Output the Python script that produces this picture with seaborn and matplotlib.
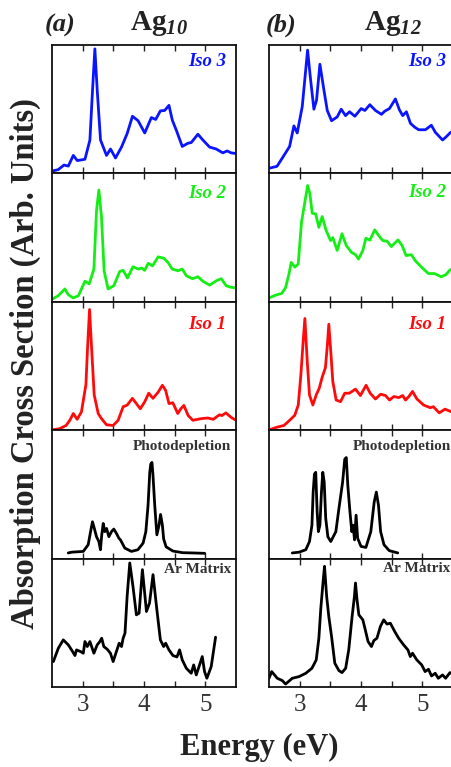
import matplotlib
matplotlib.use("Agg")
import matplotlib.pyplot as plt
import pandas as pd
import seaborn as sns

# ---------------- data (energy in eV, normalised intensity) ----------------
ag10_iso3_e = [2.50, 2.60, 2.695, 2.766, 2.847, 2.912, 3.037, 3.118, 3.161, 3.199, 3.237, 3.291, 3.389, 3.454,
               3.535, 3.633, 3.725, 3.812, 3.904, 4.012, 4.12, 4.19, 4.267, 4.337, 4.407, 4.462, 4.527, 4.624,
               4.716, 4.77, 4.879, 4.96, 5.069, 5.177, 5.285, 5.355, 5.42, 5.50]
ag10_iso3_v = [0.018, 0.029, 0.065, 0.057, 0.14, 0.10, 0.11, 0.26, 0.65, 0.97, 0.65, 0.26, 0.14, 0.19,
               0.12, 0.205, 0.31, 0.445, 0.41, 0.315, 0.435, 0.42, 0.487, 0.49, 0.53, 0.414, 0.336, 0.21,
               0.235, 0.24, 0.305, 0.26, 0.205, 0.19, 0.16, 0.175, 0.16, 0.155]

ag12_iso3_e = [2.50, 2.63, 2.744, 2.836, 2.906, 2.96, 3.042, 3.129, 3.178, 3.232, 3.275, 3.33, 3.395, 3.45,
               3.52, 3.612, 3.677, 3.748, 3.813, 3.90, 4.003, 4.063, 4.144, 4.236, 4.334, 4.388, 4.464, 4.561,
               4.626, 4.68, 4.74, 4.806, 4.876, 4.94, 5.05, 5.147, 5.212, 5.33, 5.40, 5.45, 5.50]
ag12_iso3_v = [0.04, 0.055, 0.14, 0.21, 0.37, 0.315, 0.52, 0.96, 0.73, 0.50, 0.57, 0.85, 0.65, 0.49,
               0.41, 0.44, 0.50, 0.45, 0.48, 0.445, 0.505, 0.49, 0.535, 0.49, 0.46, 0.485, 0.505, 0.58,
               0.495, 0.45, 0.48, 0.39, 0.36, 0.34, 0.34, 0.375, 0.32, 0.26, 0.29, 0.315, 0.33]

ag10_iso2_e = [2.50, 2.60, 2.71, 2.766, 2.847, 2.93, 3.037, 3.107, 3.183, 3.226, 3.264, 3.307, 3.35, 3.415,
               3.508, 3.605, 3.66, 3.73, 3.82, 3.905, 3.96, 4.01, 4.07, 4.14, 4.23, 4.32, 4.39, 4.46, 4.553,
               4.624, 4.69, 4.79, 4.88, 4.96, 5.07, 5.18, 5.26, 5.34, 5.42, 5.50]
ag10_iso2_v = [0.02, 0.047, 0.10, 0.055, 0.03, 0.047, 0.16, 0.14, 0.255, 0.71, 0.87, 0.66, 0.24, 0.10,
               0.125, 0.237, 0.245, 0.185, 0.273, 0.255, 0.263, 0.245, 0.30, 0.28, 0.35, 0.34, 0.307, 0.255,
               0.242, 0.255, 0.203, 0.18, 0.195, 0.16, 0.13, 0.164, 0.18, 0.125, 0.113, 0.108]

ag12_iso2_e = [2.50, 2.608, 2.706, 2.77, 2.825, 2.863, 2.92, 2.977, 3.03, 3.08, 3.13, 3.167, 3.205, 3.26,
               3.313, 3.367, 3.43, 3.503, 3.54, 3.612, 3.69, 3.76, 3.845, 3.91, 3.96, 4.03, 4.08, 4.144,
               4.224, 4.278, 4.354, 4.425, 4.494, 4.604, 4.67, 4.735, 4.82, 4.885, 4.99, 5.10, 5.198, 5.306,
               5.38, 5.45, 5.50]
ag12_iso2_v = [0.03, 0.052, 0.065, 0.11, 0.215, 0.307, 0.27, 0.295, 0.62, 0.763, 0.906, 0.84, 0.69, 0.685,
               0.58, 0.664, 0.558, 0.477, 0.50, 0.40, 0.53, 0.438, 0.385, 0.367, 0.333, 0.40, 0.495, 0.48,
               0.56, 0.523, 0.477, 0.472, 0.43, 0.482, 0.438, 0.36, 0.367, 0.32, 0.268, 0.22, 0.22, 0.195,
               0.21, 0.247, 0.26]

ag10_iso1_e = [2.50, 2.62, 2.73, 2.79, 2.847, 2.91, 2.98, 3.053, 3.08, 3.112, 3.145, 3.188, 3.253, 3.307,
               3.389, 3.497, 3.578, 3.66, 3.725, 3.81, 3.876, 3.94, 4.01, 4.077, 4.147, 4.23, 4.30, 4.353,
               4.407, 4.47, 4.55, 4.60, 4.65, 4.72, 4.797, 4.93, 5.04, 5.13, 5.23, 5.27, 5.335, 5.42, 5.50]
ag10_iso1_v = [0.003, 0.011, 0.037, 0.077, 0.13, 0.085, 0.143, 0.355, 0.645, 0.94, 0.645, 0.275, 0.13, 0.09,
               0.042, 0.037, 0.077, 0.183, 0.195, 0.248, 0.207, 0.167, 0.22, 0.288, 0.248, 0.296, 0.35, 0.31,
               0.207, 0.214, 0.13, 0.167, 0.193, 0.114, 0.077, 0.09, 0.095, 0.085, 0.12, 0.114, 0.135, 0.10, 0.077]

ag12_iso1_e = [2.50, 2.635, 2.744, 2.836, 2.92, 2.977, 3.02, 3.058, 3.085, 3.123, 3.16, 3.215, 3.27, 3.32,
               3.367, 3.42, 3.453, 3.475, 3.502, 3.54, 3.595, 3.666, 3.735, 3.81, 3.91, 3.99, 4.083, 4.15,
               4.236, 4.32, 4.40, 4.464, 4.536, 4.617, 4.68, 4.725, 4.78, 4.84, 4.912, 5.02, 5.13, 5.18,
               5.275, 5.37, 5.45, 5.50]
ag12_iso1_v = [0.003, 0.024, 0.037, 0.077, 0.116, 0.196, 0.434, 0.70, 0.87, 0.54, 0.275, 0.196, 0.275, 0.328,
               0.413, 0.487, 0.672, 0.825, 0.65, 0.38, 0.235, 0.222, 0.288, 0.288, 0.32, 0.27, 0.35, 0.288,
               0.243, 0.28, 0.27, 0.235, 0.262, 0.254, 0.27, 0.235, 0.262, 0.302, 0.243, 0.196, 0.175, 0.183,
               0.135, 0.164, 0.148, 0.14]

ag10_photo_e = [2.765, 2.82, 3.01, 3.09, 3.129, 3.16, 3.19, 3.226, 3.264, 3.29, 3.31, 3.335, 3.36, 3.39,
                3.427, 3.47, 3.508, 3.55, 3.59, 3.616, 3.687, 3.795, 3.90, 3.985, 4.03, 4.066, 4.094, 4.11,
                4.13, 4.147, 4.175, 4.21, 4.245, 4.27, 4.30, 4.32, 4.36, 4.47, 4.63, 4.80, 4.99]
ag10_photo_v = [0.044, 0.05, 0.056, 0.108, 0.21, 0.287, 0.235, 0.17, 0.133, 0.069, 0.18, 0.274, 0.21, 0.235,
                0.17, 0.21, 0.23, 0.197, 0.159, 0.146, 0.082, 0.056, 0.069, 0.12, 0.21, 0.415, 0.672, 0.736,
                0.749, 0.646, 0.415, 0.185, 0.26, 0.344, 0.26, 0.154, 0.092, 0.059, 0.046, 0.044, 0.041]

ag12_photo_e = [2.88, 2.99, 3.10, 3.16, 3.20, 3.22, 3.241, 3.262, 3.285, 3.305, 3.33, 3.355, 3.377, 3.40,
                3.425, 3.46, 3.507, 3.59, 3.64, 3.70, 3.735, 3.76, 3.785, 3.82, 3.85, 3.87, 3.895, 3.92,
                3.945, 4.00, 4.08, 4.16, 4.215, 4.25, 4.285, 4.32, 4.375, 4.46, 4.60]
ag12_photo_v = [0.044, 0.05, 0.069, 0.133, 0.26, 0.518, 0.659, 0.672, 0.364, 0.21, 0.26, 0.518, 0.672, 0.595,
                0.313, 0.17, 0.133, 0.21, 0.39, 0.595, 0.774, 0.787, 0.569, 0.364, 0.21, 0.26, 0.146, 0.338,
                0.159, 0.095, 0.087, 0.21, 0.44, 0.518, 0.415, 0.21, 0.108, 0.062, 0.044]

ag10_ar_e = [2.522, 2.603, 2.684, 2.766, 2.836, 2.874, 2.90, 2.966, 3.01, 3.037, 3.075, 3.118, 3.183, 3.237,
             3.28, 3.31, 3.345, 3.40, 3.453, 3.497, 3.55, 3.595, 3.633, 3.66, 3.69, 3.725, 3.768, 3.82,
             3.876, 3.92, 3.974, 4.04, 4.09, 4.147, 4.21, 4.267, 4.32, 4.353, 4.407, 4.472, 4.537, 4.58,
             4.624, 4.69, 4.77, 4.81, 4.852, 4.906, 4.95, 4.987, 5.025, 5.096, 5.167]
ag10_ar_v = [0.198, 0.302, 0.367, 0.328, 0.276, 0.245, 0.289, 0.276, 0.263, 0.354, 0.315, 0.354, 0.263, 0.328,
             0.354, 0.38, 0.315, 0.294, 0.263, 0.198, 0.276, 0.341, 0.315, 0.38, 0.419, 0.706, 0.966, 0.784,
             0.562, 0.575, 0.914, 0.588, 0.654, 0.875, 0.601, 0.367, 0.315, 0.341, 0.289, 0.245, 0.234, 0.289,
             0.211, 0.146, 0.107, 0.172, 0.094, 0.172, 0.237, 0.12, 0.068, 0.159, 0.388]

ag12_ar_e = [2.50, 2.544, 2.635, 2.717, 2.77, 2.88, 2.99, 3.10, 3.20, 3.27, 3.313, 3.345, 3.38, 3.405, 3.44,
             3.475, 3.52, 3.573, 3.64, 3.69, 3.75, 3.80, 3.855, 3.893, 3.91, 3.935, 3.965, 4.03, 4.07, 4.115,
             4.17, 4.21, 4.26, 4.316, 4.37, 4.424, 4.478, 4.55, 4.614, 4.695, 4.765, 4.804, 4.84, 4.91, 4.99,
             5.045, 5.10, 5.15, 5.21, 5.26, 5.33, 5.38, 5.45, 5.50]
ag12_ar_v = [0.068, 0.12, 0.068, 0.05, 0.023, 0.068, 0.081, 0.107, 0.146, 0.211, 0.38, 0.614, 0.81, 0.94, 0.706,
             0.549, 0.393, 0.185, 0.128, 0.112, 0.146, 0.289, 0.549, 0.706, 0.81, 0.68, 0.562, 0.523, 0.445,
             0.354, 0.315, 0.362, 0.38, 0.471, 0.523, 0.49, 0.497, 0.432, 0.38, 0.328, 0.289, 0.237, 0.263,
             0.211, 0.172, 0.12, 0.138, 0.086, 0.107, 0.068, 0.094, 0.068, 0.112, 0.10]

row_labels = ["Iso 3", "Iso 2", "Iso 1", "Photodepletion", "Ar Matrix"]
row_colors = ["#0a14ff", "#14ee14", "#ff0a0a", "black", "black"]
col_titles = ["(a)", "(b)"]
cluster_labels = [r"$\mathbf{Ag}_{10}$", r"$\mathbf{Ag}_{12}$"]
xticks_major = [3, 4, 5]
xticks_minor = [3.5, 4.5]

series = [
    [(ag10_iso3_e, ag10_iso3_v), (ag12_iso3_e, ag12_iso3_v)],
    [(ag10_iso2_e, ag10_iso2_v), (ag12_iso2_e, ag12_iso2_v)],
    [(ag10_iso1_e, ag10_iso1_v), (ag12_iso1_e, ag12_iso1_v)],
    [(ag10_photo_e, ag10_photo_v), (ag12_photo_e, ag12_photo_v)],
    [(ag10_ar_e, ag10_ar_v), (ag12_ar_e, ag12_ar_v)],
]

# ---------------- style ----------------
sns.set_theme(style="ticks")
plt.rcParams['font.family'] = ['Liberation Serif', 'DejaVu Serif']
plt.rcParams['mathtext.fontset'] = 'custom'
plt.rcParams['mathtext.rm'] = 'Liberation Serif:bold:italic'
plt.rcParams['mathtext.it'] = 'Liberation Serif:bold:italic'
plt.rcParams['mathtext.bf'] = 'Liberation Serif:bold'

W, H = 452, 767
fig = plt.figure(figsize=(W / 100, H / 100), dpi=100)

col_left = [52, 269]
col_width = 184
top_px, bot_px = 45, 687
row_h = (bot_px - top_px) / 5

label_x = [[0.946, 0.965], [0.946, 0.965], [0.946, 0.965], [0.975, 0.992], [0.972, 0.985]]
label_y = [[0.836, 0.836], [0.807, 0.82], [0.787, 0.787], [0.846, 0.846], [0.888, 0.893]]

for r in range(5):
    for c in range(2):
        y_top = top_px + r * row_h
        ax = fig.add_axes([col_left[c] / W, 1 - (y_top + row_h) / H, col_width / W, row_h / H])
        e, v = series[r][c]
        df = pd.DataFrame({"Energy": e, "Signal": v})
        sns.lineplot(data=df, x="Energy", y="Signal", ax=ax, color=row_colors[r], lw=2.0,
                     estimator=None, sort=False)
        ax.set_xlim(2.5, 5.5)
        ax.set_ylim(0, 1)
        ax.set_xlabel("")
        ax.set_ylabel("")
        ax.set_yticks([])
        ax.set_xticks(xticks_major)
        ax.set_xticks(xticks_minor, minor=True)
        ax.tick_params(axis='x', which='both', direction='in', top=True, bottom=True,
                       length=4, width=1.0, color='#222222')
        if r == 4:
            ax.set_xticklabels([str(t) for t in xticks_major], fontsize=18, color='#333333')
            ax.tick_params(axis='x', which='major', pad=5)
        else:
            ax.set_xticklabels([])
        for s in ax.spines.values():
            s.set_visible(True)
            s.set_linewidth(1.3)
            s.set_color('#111111')
        if r < 3:
            ax.text(label_x[r][c], label_y[r][c], row_labels[r], transform=ax.transAxes,
                    ha='right', va='baseline', fontsize=13.5, fontweight='bold', fontstyle='italic',
                    color=row_colors[r])
        else:
            ax.text(label_x[r][c], label_y[r][c], row_labels[r], transform=ax.transAxes,
                    ha='right', va='baseline', fontsize=11, fontweight='bold', color='#333333')

# column headings
fig.text(45 / W, 1 - 31.5 / H, col_titles[0], fontsize=19, fontweight='bold', fontstyle='italic',
         color='#222222', ha='left', va='baseline')
fig.text(266 / W, 1 - 31.5 / H, col_titles[1], fontsize=19, fontweight='bold', fontstyle='italic',
         color='#222222', ha='left', va='baseline')
fig.text(130 / W, 1 - 29.5 / H, cluster_labels[0], fontsize=21, color='#222222', ha='left', va='baseline')
fig.text(364 / W, 1 - 29.5 / H, cluster_labels[1], fontsize=21, color='#222222', ha='left', va='baseline')

fig.text(259 / W, 1 - 747 / H, "Energy (eV)", fontsize=22, fontweight='bold', color='#222222',
         ha='center', va='center')
fig.text(25 / W, 1 - 364 / H, "Absorption Cross Section (Arb. Units)", fontsize=23.5, fontweight='bold',
         color='#222222', rotation=90, ha='center', va='center')

fig.savefig("out.png", dpi=100)
